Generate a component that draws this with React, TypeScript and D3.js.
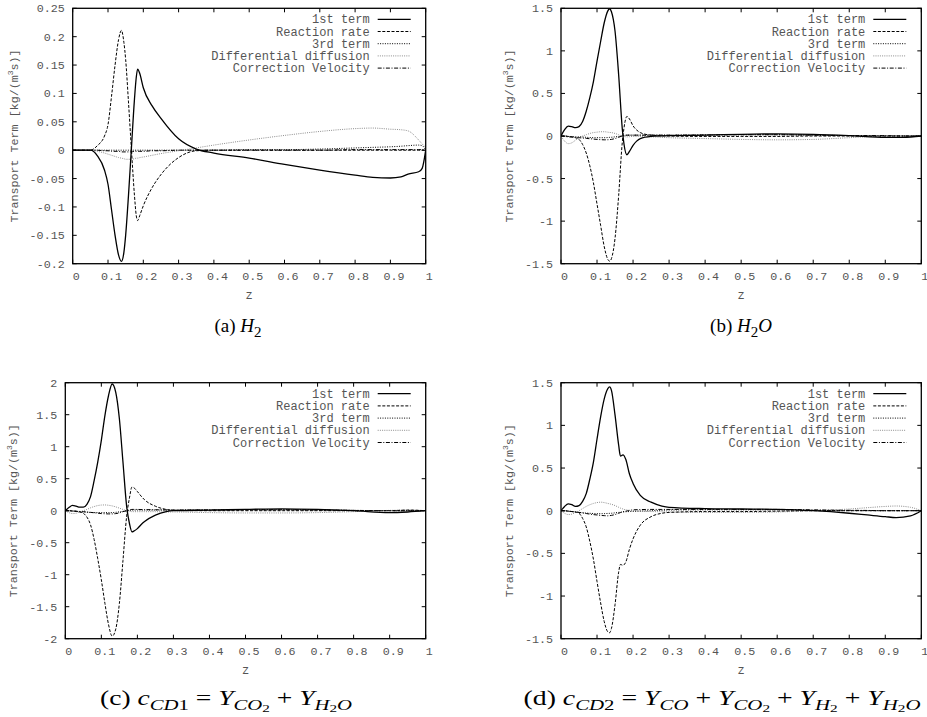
import React from 'react';
import * as d3 from 'd3';

// ---------- data ----------
const SERIES_NAMES = ['1st term', 'Reaction rate', '3rd term', 'Differential diffusion', 'Correction Velocity'];
const X_TICKS = [0, 0.1, 0.2, 0.3, 0.4, 0.5, 0.6, 0.7, 0.8, 0.9, 1];
const Y_TICKS_A = [-0.2, -0.15, -0.1, -0.05, 0, 0.05, 0.1, 0.15, 0.2, 0.25];
const Y_TICKS_B = [-1.5, -1, -0.5, 0, 0.5, 1, 1.5];
const Y_TICKS_C = [-2, -1.5, -1, -0.5, 0, 0.5, 1, 1.5, 2];
const Y_TICKS_D = [-1.5, -1, -0.5, 0, 0.5, 1, 1.5];

// (a) H2
const zA = [0, 0.05, 0.07, 0.09, 0.1, 0.11, 0.12, 0.13, 0.138, 0.145, 0.15, 0.158, 0.166, 0.175, 0.18, 0.184, 0.19, 0.2, 0.225, 0.25, 0.3, 0.35, 0.4, 0.5, 0.6, 0.7, 0.8, 0.85, 0.9, 0.93, 0.95, 0.98, 0.99, 1];
const a1 = [0, 0, -0.01, -0.035, -0.06, -0.105, -0.15, -0.185, -0.196, -0.18, -0.15, -0.08, 0, 0.09, 0.128, 0.143, 0.135, 0.11, 0.078, 0.056, 0.02, 0.002, -0.005, -0.014, -0.025, -0.035, -0.044, -0.048, -0.049, -0.047, -0.042, -0.038, -0.032, 0];
const aR = [0, 0, 0.008, 0.025, 0.045, 0.095, 0.15, 0.195, 0.211, 0.19, 0.16, 0.085, 0.005, -0.08, -0.115, -0.124, -0.115, -0.098, -0.066, -0.043, -0.013, -0.001, 0, 0, 0, 0, 0, 0, 0, 0, 0, 0, 0, 0];
const a3 = [0, 0, 0, 0, 0, 0, 0, 0, 0, 0, 0, 0, 0, 0, 0, 0, 0, 0, 0, 0, 0, 0, 0, 0.001, 0.001, 0.002, 0.004, 0.005, 0.006, 0.007, 0.008, 0.009, 0.008, 0];
const aD = [0, 0, -0.002, -0.005, -0.007, -0.009, -0.011, -0.013, -0.014, -0.015, -0.016, -0.016, -0.016, -0.015, -0.014, -0.014, -0.013, -0.012, -0.009, -0.006, -0.001, 0.004, 0.009, 0.018, 0.026, 0.033, 0.038, 0.039, 0.037, 0.036, 0.034, 0.018, 0.011, 0.005];
const aC = [0, 0, 0, -0.001, -0.001, -0.002, -0.002, -0.002, -0.003, -0.003, -0.003, -0.003, -0.003, -0.002, -0.002, -0.002, -0.002, -0.002, -0.001, -0.001, 0, 0, 0, 0, 0, 0, 0.001, 0.001, 0.001, 0.001, 0.001, 0.001, 0.001, 0];

// (b) H2O
const zB = [0, 0.01, 0.02, 0.03, 0.04, 0.05, 0.06, 0.07, 0.08, 0.09, 0.1, 0.11, 0.12, 0.13, 0.135, 0.14, 0.15, 0.16, 0.17, 0.175, 0.183, 0.19, 0.2, 0.21, 0.22, 0.25, 0.3, 0.4, 0.5, 0.6, 0.7, 0.8, 0.9, 0.95, 1];
const b1 = [0, 0.075, 0.117, 0.11, 0.098, 0.11, 0.17, 0.29, 0.45, 0.64, 0.88, 1.11, 1.33, 1.47, 1.495, 1.46, 1.23, 0.72, 0.09, -0.1, -0.22, -0.18, -0.11, -0.06, -0.03, -0.005, 0.005, 0.01, 0.02, 0.025, 0.02, 0.005, -0.015, -0.015, 0];
const bR = [0, 0, -0.005, -0.01, -0.02, -0.04, -0.1, -0.2, -0.35, -0.55, -0.8, -1.05, -1.3, -1.45, -1.47, -1.44, -1.2, -0.7, -0.08, 0.1, 0.23, 0.2, 0.12, 0.07, 0.04, 0.01, 0, -0.005, -0.005, -0.005, 0, 0, 0, 0, 0];
const b3 = [0, 0, -0.005, -0.008, -0.01, -0.01, -0.012, -0.015, -0.018, -0.02, -0.02, -0.02, -0.02, -0.018, -0.016, -0.015, -0.01, -0.005, 0, 0.005, 0.01, 0.01, 0.01, 0.01, 0.01, 0.01, 0.01, 0.012, 0.015, 0.015, 0.01, 0.005, 0, 0, 0];
const bD = [0, -0.06, -0.09, -0.08, -0.05, -0.02, 0, 0.015, 0.03, 0.04, 0.045, 0.05, 0.05, 0.045, 0.042, 0.04, 0.03, 0.015, 0, -0.005, -0.01, -0.008, -0.005, -0.005, -0.006, -0.01, -0.02, -0.03, -0.04, -0.045, -0.04, -0.02, 0, 0.005, 0];
const bC = [0, -0.005, -0.01, -0.012, -0.015, -0.02, -0.024, -0.028, -0.032, -0.036, -0.04, -0.043, -0.045, -0.044, -0.042, -0.04, -0.03, -0.015, 0, 0.005, 0.01, 0.01, 0.01, 0.01, 0.01, 0.01, 0.01, 0.012, 0.015, 0.015, 0.01, 0.005, 0.005, 0, 0];

// (c) cCD1
const zC = [0, 0.01, 0.02, 0.03, 0.04, 0.05, 0.06, 0.07, 0.08, 0.09, 0.1, 0.11, 0.12, 0.13, 0.14, 0.15, 0.16, 0.17, 0.178, 0.185, 0.19, 0.2, 0.21, 0.22, 0.25, 0.28, 0.3, 0.4, 0.5, 0.6, 0.7, 0.8, 0.9, 0.95, 1];
const c1 = [0, 0.05, 0.083, 0.07, 0.055, 0.055, 0.1, 0.22, 0.47, 0.76, 1.1, 1.49, 1.8, 1.98, 1.85, 1.44, 0.76, 0.08, -0.2, -0.33, -0.32, -0.28, -0.22, -0.17, -0.07, -0.015, 0, 0.01, 0.02, 0.03, 0.02, 0, -0.03, -0.02, 0];
const cR = [0, 0, -0.005, -0.01, -0.02, -0.04, -0.1, -0.22, -0.45, -0.75, -1.08, -1.45, -1.78, -1.96, -1.85, -1.45, -0.78, -0.1, 0.2, 0.37, 0.36, 0.3, 0.23, 0.17, 0.07, 0.02, 0.005, 0, 0, 0, 0, 0, 0, 0.01, 0];
const c3 = [0, 0, -0.005, -0.01, -0.015, -0.02, -0.024, -0.027, -0.03, -0.03, -0.03, -0.03, -0.03, -0.03, -0.025, -0.018, -0.01, 0, 0.005, 0.01, 0.01, 0.01, 0.01, 0.01, 0.01, 0.01, 0.01, 0.012, 0.015, 0.015, 0.01, 0.005, 0, 0, 0];
const cD = [0, -0.03, -0.045, -0.04, -0.02, 0, 0.02, 0.045, 0.065, 0.08, 0.088, 0.09, 0.085, 0.075, 0.06, 0.04, 0.02, 0, -0.01, -0.015, -0.015, -0.015, -0.015, -0.015, -0.015, -0.02, -0.02, -0.03, -0.035, -0.035, -0.03, -0.015, 0.005, 0.01, 0];
const cC = [0, -0.002, -0.005, -0.008, -0.012, -0.015, -0.02, -0.026, -0.032, -0.038, -0.045, -0.048, -0.05, -0.05, -0.045, -0.035, -0.015, 0, 0.01, 0.02, 0.02, 0.02, 0.018, 0.017, 0.015, 0.012, 0.01, 0.012, 0.014, 0.015, 0.012, 0.005, 0, 0, 0];

// (d) cCD2
const zD = [0, 0.01, 0.02, 0.03, 0.04, 0.05, 0.06, 0.07, 0.08, 0.09, 0.1, 0.11, 0.12, 0.13, 0.135, 0.14, 0.15, 0.16, 0.165, 0.172, 0.18, 0.19, 0.2, 0.22, 0.25, 0.28, 0.3, 0.4, 0.5, 0.6, 0.7, 0.8, 0.85, 0.9, 0.93, 0.97, 1];
const d1 = [0, 0.05, 0.08, 0.07, 0.05, 0.06, 0.11, 0.2, 0.37, 0.57, 0.84, 1.1, 1.31, 1.43, 1.45, 1.41, 1.12, 0.77, 0.64, 0.655, 0.6, 0.43, 0.32, 0.18, 0.1, 0.055, 0.04, 0.025, 0.02, 0.015, 0, -0.03, -0.05, -0.07, -0.08, -0.06, 0];
const dR = [0, 0, -0.005, -0.01, -0.015, -0.03, -0.09, -0.19, -0.36, -0.57, -0.83, -1.08, -1.3, -1.42, -1.43, -1.38, -1.1, -0.72, -0.63, -0.64, -0.6, -0.45, -0.33, -0.17, -0.07, -0.03, -0.02, -0.01, -0.01, -0.005, 0, 0, 0, 0, 0, 0, 0];
const d3v = [0, 0, -0.005, -0.01, -0.015, -0.02, -0.024, -0.028, -0.03, -0.033, -0.035, -0.035, -0.034, -0.032, -0.031, -0.03, -0.025, -0.02, -0.018, -0.015, -0.012, -0.01, -0.008, -0.004, 0, 0.005, 0.008, 0.01, 0.01, 0.01, 0.005, 0, 0, 0, 0, 0, 0];
const dD = [0, -0.03, -0.045, -0.04, -0.02, 0, 0.025, 0.05, 0.07, 0.085, 0.095, 0.1, 0.095, 0.085, 0.08, 0.075, 0.06, 0.04, 0.03, 0.02, 0.01, 0.005, 0, -0.005, -0.01, -0.012, -0.015, -0.02, -0.02, -0.015, 0, 0.02, 0.035, 0.05, 0.055, 0.04, 0];
const dC = [0, -0.003, -0.006, -0.01, -0.015, -0.02, -0.026, -0.033, -0.04, -0.046, -0.05, -0.055, -0.058, -0.06, -0.058, -0.055, -0.045, -0.03, -0.022, -0.012, -0.005, 0.003, 0.01, 0.013, 0.015, 0.015, 0.015, 0.015, 0.015, 0.015, 0.01, 0.005, 0.003, 0, 0, 0, 0];

// ---------- styles ----------
const STYLES = [
  { stroke: '#000', width: 1.3, dash: undefined as string | undefined },
  { stroke: '#000', width: 1, dash: '3,1.6' },
  { stroke: '#000', width: 1, dash: '1,1.4' },
  { stroke: '#8c8c8c', width: 1, dash: '1,1.2' },
  { stroke: '#000', width: 1, dash: '4,1.6,1,1.6' },
];

const MONO = '"Liberation Mono", "DejaVu Sans Mono", monospace';
const TXT = '#555';

type PanelDef = {
  id: string;
  left: number; right: number; top: number; bottom: number;
  yDomain: [number, number];
  yTicks: number[];
  z: number[];
  series: number[][];
  yTitleX: number;
};

const PANELS: PanelDef[] = [
  { id: 'a', left: 72.7, right: 425.7, top: 8.3, bottom: 263.7, yDomain: [-0.2, 0.25], yTicks: Y_TICKS_A, z: zA, series: [a1, aR, a3, aD, aC], yTitleX: 18 },
  { id: 'b', left: 561, right: 921.3, top: 8.3, bottom: 263.7, yDomain: [-1.5, 1.5], yTicks: Y_TICKS_B, z: zB, series: [b1, bR, b3, bD, bC], yTitleX: 513 },
  { id: 'c', left: 65.3, right: 425.7, top: 382.7, bottom: 638.7, yDomain: [-2, 2], yTicks: Y_TICKS_C, z: zC, series: [c1, cR, c3, cD, cC], yTitleX: 17 },
  { id: 'd', left: 561, right: 921.3, top: 382.7, bottom: 638.7, yDomain: [-1.5, 1.5], yTicks: Y_TICKS_D, z: zD, series: [d1, dR, d3v, dD, dC], yTitleX: 513 },
];

function Panel({ p }: { p: PanelDef }) {
  const x = d3.scaleLinear().domain([0, 1]).range([p.left, p.right]);
  const y = d3.scaleLinear().domain(p.yDomain).range([p.bottom, p.top]);
  const line = d3.line<number>()
    .x((_, i) => x(p.z[i]))
    .y((v) => y(v))
    .curve(d3.curveMonotoneX);
  const tl = 4;
  const cy = (p.top + p.bottom) / 2;
  return (
    <g>
      <defs>
        <clipPath id={`clip-${p.id}`}>
          <rect x={p.left} y={p.top} width={p.right - p.left} height={p.bottom - p.top} />
        </clipPath>
      </defs>
      {X_TICKS.map((t) => (
        <g key={`xt${t}`}>
          <line x1={x(t)} x2={x(t)} y1={p.bottom} y2={p.bottom - tl} stroke="#000" strokeWidth={1} />
          <line x1={x(t)} x2={x(t)} y1={p.top} y2={p.top + tl} stroke="#000" strokeWidth={1} />
          <text x={x(t) + 3.5} y={p.bottom + 16.5} textAnchor="middle" fontFamily={MONO} fontSize={11.7} fill={TXT}>{String(t)}</text>
        </g>
      ))}
      {p.yTicks.map((t) => (
        <g key={`yt${t}`}>
          <line x1={p.left} x2={p.left + tl} y1={y(t)} y2={y(t)} stroke="#000" strokeWidth={1} />
          <line x1={p.right} x2={p.right - tl} y1={y(t)} y2={y(t)} stroke="#000" strokeWidth={1} />
          <text x={p.left - 8} y={y(t) + 4} textAnchor="end" fontFamily={MONO} fontSize={11.7} fill={TXT}>{String(t)}</text>
        </g>
      ))}
      <g clipPath={`url(#clip-${p.id})`}>
        {p.series.map((s, i) => (
          <path key={i} d={line(s) || ''} fill="none" stroke={STYLES[i].stroke} strokeWidth={STYLES[i].width} strokeDasharray={STYLES[i].dash} />
        )).reverse()}
      </g>
      <rect x={p.left} y={p.top} width={p.right - p.left} height={p.bottom - p.top} fill="none" stroke="#000" strokeWidth={1.3} />
      {SERIES_NAMES.map((n, i) => {
        const ry = p.top + 11 + i * 12.2;
        return (
          <g key={n}>
            <text x={p.right - 56} y={ry + 4} textAnchor="end" fontFamily={MONO} fontSize={12} fill={TXT} style={{ whiteSpace: 'pre' }}>{n}</text>
            <line x1={p.right - 48} x2={p.right - 15} y1={ry} y2={ry} stroke={STYLES[i].stroke} strokeWidth={STYLES[i].width} strokeDasharray={STYLES[i].dash} />
          </g>
        );
      })}
      <text x={(p.left + p.right) / 2} y={p.bottom + 35} textAnchor="middle" fontFamily={MONO} fontSize={12} fill={TXT}>z</text>
      <text transform={`translate(${p.yTitleX},${cy}) rotate(-90)`} textAnchor="middle" fontFamily={MONO} fontSize={11.7} fill={TXT} style={{ whiteSpace: 'pre' }}>
        Transport Term [kg/(m<tspan fontSize={8} dy={-5}>3</tspan><tspan dy={5}>s)]</tspan>
      </text>
    </g>
  );
}

const SERIF = '"Liberation Serif", "DejaVu Serif", serif';
const SUB = 4.5;
const S1 = 15;
const S2 = 11;

export default function App() {
  return (
    <svg width={927} height={717} style={{ position: 'absolute', left: 0, top: 0, background: '#fff' }}>
      <rect width={927} height={717} fill="#fff" />
      {PANELS.map((p) => <Panel key={p.id} p={p} />)}
      <g fontFamily={SERIF} fill="#000" style={{ whiteSpace: 'pre' }}>
        <text x={238} y={332} textAnchor="middle" fontSize={19}>
          (a)  <tspan fontStyle="italic">H</tspan><tspan fontSize={S1} dy={SUB}>2</tspan>
        </text>
        <text x={741} y={332} textAnchor="middle" fontSize={19}>
          (b)  <tspan fontStyle="italic">H</tspan><tspan fontSize={S1} dy={SUB}>2</tspan><tspan fontStyle="italic" dy={-SUB}>O</tspan>
        </text>
        <text x={226} y={705} textAnchor="middle" fontSize={20} textLength={252} lengthAdjust="spacingAndGlyphs">
          (c)  <tspan fontStyle="italic">c</tspan><tspan fontSize={S1} fontStyle="italic" dy={SUB}>CD</tspan><tspan fontSize={S1}>1</tspan>
          <tspan dy={-SUB}>  =  </tspan><tspan fontStyle="italic">Y</tspan><tspan fontSize={S1} fontStyle="italic" dy={SUB}>CO</tspan><tspan fontSize={S2} dy={2.5}>2</tspan>
          <tspan dy={-SUB - 2.5}>  +  </tspan><tspan fontStyle="italic">Y</tspan><tspan fontSize={S1} fontStyle="italic" dy={SUB}>H</tspan><tspan fontSize={S2} dy={2.5}>2</tspan><tspan fontSize={S1} fontStyle="italic" dy={-2.5}>O</tspan>
        </text>
        <text x={722} y={705} textAnchor="middle" fontSize={20} textLength={397} lengthAdjust="spacingAndGlyphs">
          (d)  <tspan fontStyle="italic">c</tspan><tspan fontSize={S1} fontStyle="italic" dy={SUB}>CD</tspan><tspan fontSize={S1}>2</tspan>
          <tspan dy={-SUB}>  =  </tspan><tspan fontStyle="italic">Y</tspan><tspan fontSize={S1} fontStyle="italic" dy={SUB}>CO</tspan>
          <tspan dy={-SUB}>  +  </tspan><tspan fontStyle="italic">Y</tspan><tspan fontSize={S1} fontStyle="italic" dy={SUB}>CO</tspan><tspan fontSize={S2} dy={2.5}>2</tspan>
          <tspan dy={-SUB - 2.5}>  +  </tspan><tspan fontStyle="italic">Y</tspan><tspan fontSize={S1} fontStyle="italic" dy={SUB}>H</tspan><tspan fontSize={S2} dy={2.5}>2</tspan>
          <tspan dy={-SUB - 2.5}>  +  </tspan><tspan fontStyle="italic">Y</tspan><tspan fontSize={S1} fontStyle="italic" dy={SUB}>H</tspan><tspan fontSize={S2} dy={2.5}>2</tspan><tspan fontSize={S1} fontStyle="italic" dy={-2.5}>O</tspan>
        </text>
      </g>
    </svg>
  );
}
